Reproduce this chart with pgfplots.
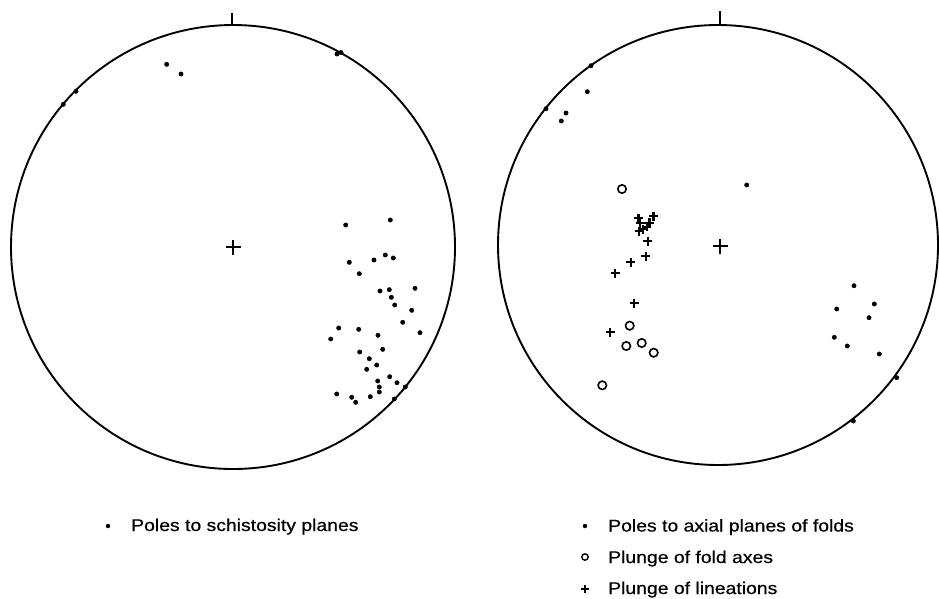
\documentclass[border=0pt]{standalone}
\usepackage{pgfplots}
\pgfplotsset{compat=1.18}
\usepackage{fontspec}
\setmainfont{Liberation Sans}[FakeBold=0.6]
\newcommand{\lgd}[1]{\fontsize{17}{20}\selectfont\addfontfeature{FakeBold=0.6}\scalebox{1.14}[1]{#1}}
\pgfplotstableread{
x y
345.7 225
390.3 220
349.3 262.3
374 260
385.3 255
393.3 258
359.3 273.7
380 291
389.3 289.7
415 288.3
391.3 297.3
394.7 305
411.7 310.3
402.7 322.3
338.7 328
358.7 329.3
330.7 339
378 335.3
420 332.7
382.7 349.3
359.7 352
369.3 358.7
376.7 365
366.7 369.3
389.7 376.7
377.7 381
397 382.7
379.3 387
405.3 387
379.3 392
336.7 394
351.7 397.3
370.3 396.7
355.7 402.3
394.3 399
166.7 64.3
181 74
76 91.3
63.3 104.3
337 54
341 52.5
}\schist
\pgfplotstableread{
x y
591 65.7
587.3 91.7
546 108.7
566 113
561.3 121
746.7 185
854 285.7
836.7 309
874.3 304
869 317.7
834.3 337.3
847.3 346
879.3 354
896.7 377.7
853.3 421
}\axial
\pgfplotstableread{
x y
622 189
629.7 325.7
626.3 346
641.7 343
653.7 352.7
602.3 385.3
}\foldax
\pgfplotstableread{
x y
638.5 218.3
653.5 216
640 223.3
646.7 226.7
649.5 222.7
639 231
643 229.3
647.7 241.3
645.7 256
630.7 262
615.3 273.3
634 303
610.3 332
}\lin
\begin{document}
\begin{tikzpicture}
\begin{axis}[
  width=939pt, height=598pt, scale only axis,
  xmin=0, xmax=939, ymin=0, ymax=598, y dir=reverse,
  hide axis, clip=false,
]
% frames
\draw[line width=1.9pt] (axis cs:233,247) circle[radius=222];
\draw[line width=1.9pt] (axis cs:718,245) circle[radius=220];
\draw[line width=1.3pt] (axis cs:232,13) -- (axis cs:232,25);
\draw[line width=1.3pt] (axis cs:720,11) -- (axis cs:720,24);
% centre crosses
\addplot[only marks, mark=+, mark size=7.5pt, line width=1.3pt] coordinates {(233,247) (720,246)};
% data
\addplot[only marks, mark=*, mark size=2.2pt, black] table {\schist};
\addplot[only marks, mark=*, mark size=2.2pt, black] table {\axial};
\addplot[only marks, mark=o, mark size=4.2pt, line width=1.6pt, black] table {\foldax};
\addplot[only marks, mark=+, mark size=4.5pt, line width=2.1pt, black] table {\lin};
% legend marks
\addplot[only marks, mark=*, mark size=2pt, black] coordinates {(108,526) (585,526)};
\addplot[only marks, mark=o, mark size=3.2pt, line width=1.4pt, black] coordinates {(585,557)};
\addplot[only marks, mark=+, mark size=4pt, line width=1.8pt, black] coordinates {(585,589)};
% legend texts
\node[anchor=base west, inner sep=0pt] at (axis cs:131,531) {\lgd{Poles to schistosity planes}};
\node[anchor=base west, inner sep=0pt] at (axis cs:608,531.5) {\lgd{Poles to axial planes of folds}};
\node[anchor=base west, inner sep=0pt] at (axis cs:608,563) {\lgd{Plunge of fold axes}};
\node[anchor=base west, inner sep=0pt] at (axis cs:608,594) {\lgd{Plunge of lineations}};
\end{axis}
\pgfresetboundingbox
\path (current axis.south west) rectangle (current axis.north east);
\end{tikzpicture}
\end{document}
